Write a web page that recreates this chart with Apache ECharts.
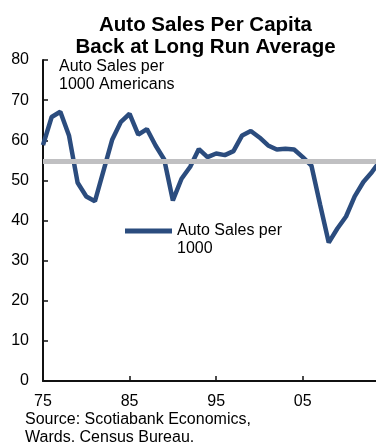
<!DOCTYPE html>
<html>
<head>
<meta charset="utf-8">
<script src="https://cdn.jsdelivr.net/npm/echarts@6/dist/echarts.min.js"></script>
<style>
html,body{margin:0;padding:0;background:#fff;}
#chart{width:376px;height:442px;}
</style>
</head>
<body>
<div id="chart"></div>
<script>
// ---- Data ----
const years = [1975,1976,1977,1978,1979,1980,1981,1982,1983,1984,1985,1986,1987,1988,1989,1990,1991,1992,1993,1994,1995,1996,1997,1998,1999,2000,2001,2002,2003,2004,2005,2006,2007,2008,2009,2010,2011,2012,2013,2014];
const salesPer1000 = [58.8,65.8,67.1,61.2,49.4,46,44.8,52.5,60.2,64.6,66.6,61.4,62.8,58.7,55.2,45,50.4,53.4,57.8,55.8,56.7,56.3,57.3,61.2,62.3,60.7,58.7,57.7,57.9,57.7,55.8,53.7,44,34.5,38,41,46,49.6,52.1,55];
const longRunAverage = 54.75;
const xTickYears = [1975,1985,1995,2005];
const seriesName = 'Auto Sales per 1000';

const FONT = 'Liberation Sans, Arial, sans-serif';
const chart = echarts.init(document.getElementById('chart'), null, {renderer:'canvas'});

chart.setOption({
  animation: false,
  backgroundColor: '#ffffff',
  title: {
    text: 'Auto Sales Per Capita\nBack at Long Run Average',
    left: 200.5,
    top: 9,
    textAlign: 'center',
    textStyle: { fontFamily: FONT, fontSize: 20.5, fontWeight: 'bold', color: '#000', lineHeight: 22 }
  },
  legend: {
    data: [seriesName],
    left: 125,
    top: 204,
    padding: 0,
    icon: 'rect',
    itemWidth: 47,
    itemHeight: 5,
    formatter: function(){ return '\nAuto Sales per\n1000'; },
    textStyle: { fontFamily: FONT, fontSize: 16, color: '#000', lineHeight: 18 }
  },
  grid: { left: 43, right: 0, top: 60, bottom: 61, containLabel: false, outerBoundsMode: 'none' },
  xAxis: {
    type: 'value',
    min: 1975,
    max: 2013.46,
    splitLine: { show: false },
    axisLine: { show: true, lineStyle: { color: '#111', width: 2 } },
    axisTick: { show: true, inside: true, length: 5, customValues: xTickYears, lineStyle: { color: '#111', width: 1.5 } },
    axisLabel: {
      customValues: xTickYears,
      margin: 13,
      fontFamily: FONT, fontSize: 16, color: '#000',
      formatter: function(v){ return String(Math.round(v) % 100).padStart(2,'0'); }
    }
  },
  yAxis: {
    type: 'value',
    min: 0, max: 80, interval: 10,
    splitLine: { show: false },
    axisLine: { show: true, lineStyle: { color: '#111', width: 2 } },
    axisTick: { show: true, inside: true, length: 5, lineStyle: { color: '#111', width: 1.5 } },
    axisLabel: { margin: 14, fontFamily: FONT, fontSize: 16, color: '#000' }
  },
  graphic: [
    { type: 'text', left: 59, top: 58, style: { text: 'Auto Sales per\n1000 Americans', font: '16px ' + FONT, fill: '#000', lineHeight: 18 } },
    { type: 'text', left: 25, top: 411, style: { text: 'Source: Scotiabank Economics,\nWards, Census Bureau.', font: '16px ' + FONT, fill: '#000', lineHeight: 18 } }
  ],
  series: [
    {
      name: 'Long run average',
      type: 'line',
      data: [],
      z: 1,
      markLine: {
        silent: true,
        symbol: ['none','none'],
        label: { show: false },
        lineStyle: { color: '#C0C0C2', width: 5, type: 'solid' },
        data: [{ yAxis: longRunAverage }]
      }
    },
    {
      name: seriesName,
      type: 'line',
      z: 3,
      clip: true,
      symbol: 'none',
      color: '#2B4C7E',
      lineStyle: { color: '#2B4C7E', width: 4.5 },
      data: years.map(function(y,i){ return [y, salesPer1000[i]]; })
    }
  ]
});
</script>
</body>
</html>
